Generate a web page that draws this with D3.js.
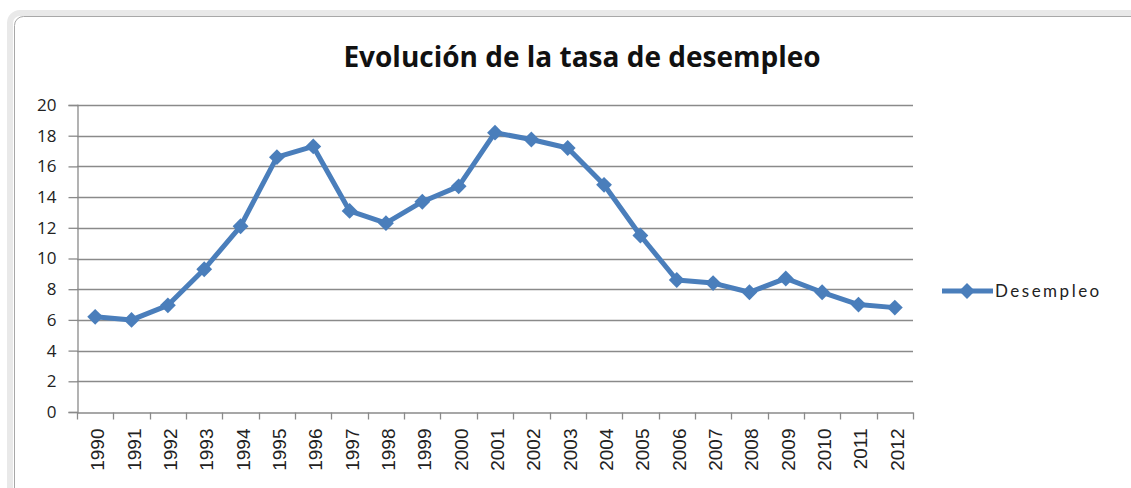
<!DOCTYPE html>
<html>
<head>
<meta charset="utf-8">
<script src="https://cdn.jsdelivr.net/npm/d3@7"></script>
<style>
  body { margin: 0; background: #fff; }
  svg { display: block; }
</style>
</head>
<body>
<div id="chart"></div>
<script>
// data
var years = ["1990","1991","1992","1993","1994","1995","1996","1997","1998","1999","2000","2001",
             "2002","2003","2004","2005","2006","2007","2008","2009","2010","2011","2012"];
var desempleo = [6.2, 6.0, 6.95, 9.3, 12.1, 16.6, 17.3, 13.1, 12.3, 13.7, 14.7, 18.2,
                 17.75, 17.2, 14.8, 11.5, 8.6, 8.4, 7.8, 8.7, 7.8, 7.0, 6.8];
var yTicks = [0, 2, 4, 6, 8, 10, 12, 14, 16, 18, 20];
var seriesName = "Desempleo";
var title = "Evolución de la tasa de desempleo";

var width = 1131, height = 488;
var blue = "#4a7ebb";
var grid = "#8a8a8a";
var margin = {top: 105, left: 77, right: 218, bottom: 76};

var svg = d3.select("#chart").append("svg")
    .attr("width", width)
    .attr("height", height);

// excel-like chart frame
svg.append("rect")
    .attr("x", 10).attr("y", 13)
    .attr("width", width + 20).attr("height", height + 20)
    .attr("rx", 10)
    .attr("fill", "none")
    .attr("stroke", "#e9e9e9")
    .attr("stroke-width", 6);
svg.append("rect")
    .attr("x", 14.5).attr("y", 16.5)
    .attr("width", width).attr("height", height)
    .attr("rx", 9)
    .attr("fill", "#fff")
    .attr("stroke", "#a8a8a8")
    .attr("stroke-width", 1);

var x = d3.scaleBand()
    .domain(years)
    .range([margin.left, width - margin.right]);

var y = d3.scaleLinear()
    .domain([0, 20])
    .range([height - margin.bottom, margin.top]);

// gridlines
svg.append("g")
    .selectAll("line")
    .data(yTicks.filter(function(d) { return d > 0; }))
    .enter().append("line")
    .attr("x1", margin.left).attr("x2", width - margin.right)
    .attr("y1", function(d) { return Math.round(y(d)) + 0.5; })
    .attr("y2", function(d) { return Math.round(y(d)) + 0.5; })
    .attr("stroke", grid)
    .attr("stroke-width", 1.3);

// y axis
var yAxis = svg.append("g")
    .attr("transform", "translate(" + (margin.left + 0.5) + ",0)")
    .call(d3.axisLeft(y).tickValues(yTicks).tickSize(9).tickPadding(12).tickFormat(d3.format("d")));
yAxis.selectAll("text")
    .attr("font-family", "'Open Sans', Lato, sans-serif")
    .attr("font-size", 17)
    .attr("fill", "#222");
yAxis.selectAll(".domain, .tick line").attr("stroke", grid).attr("stroke-width", 1.3);

// x axis
var xAxis = svg.append("g")
    .attr("transform", "translate(0," + (Math.round(y(0)) + 0.5) + ")")
    .call(d3.axisBottom(x).tickSize(0).tickFormat(""));
xAxis.select(".domain").attr("stroke", grid).attr("stroke-width", 1.3);
// category boundary ticks
xAxis.selectAll(".bound")
    .data(years.concat(["end"]))
    .enter().append("line")
    .attr("class", "bound")
    .attr("x1", function(d, i) { return Math.round(margin.left + i * x.step()) + 0.5; })
    .attr("x2", function(d, i) { return Math.round(margin.left + i * x.step()) + 0.5; })
    .attr("y1", 0).attr("y2", 7)
    .attr("stroke", grid)
    .attr("stroke-width", 1.3);
xAxis.selectAll(".lbl")
    .data(years)
    .enter().append("text")
    .attr("class", "lbl")
    .attr("transform", function(d) { return "translate(" + (x(d) + x.bandwidth() / 2 + 9) + ",16) rotate(-90)"; })
    .attr("text-anchor", "end")
    .attr("font-family", "'Liberation Sans', Arial, sans-serif")
    .attr("font-size", 19)
    .attr("fill", "#222")
    .text(function(d) { return d; });

// line
var line = d3.line()
    .x(function(d, i) { return x(years[i]) + x.bandwidth() / 2; })
    .y(function(d) { return y(d); });

svg.append("path")
    .datum(desempleo)
    .attr("d", line)
    .attr("fill", "none")
    .attr("stroke", blue)
    .attr("stroke-width", 5)
    .attr("stroke-linejoin", "round");

var diamond = d3.symbol().type(d3.symbolDiamond2).size(160);
svg.append("g")
    .selectAll("path")
    .data(desempleo)
    .enter().append("path")
    .attr("d", diamond)
    .attr("transform", function(d, i) { return "translate(" + (x(years[i]) + x.bandwidth() / 2) + "," + y(d) + ")"; })
    .attr("fill", blue);

// title
svg.append("text")
    .attr("x", 582).attr("y", 67)
    .attr("text-anchor", "middle")
    .attr("font-family", "'Open Sans', Lato, sans-serif")
    .attr("font-weight", "bold")
    .attr("font-size", 28)
    .attr("fill", "#111")
    .text(title);

// legend
var lg = svg.append("g").attr("transform", "translate(942,291)");
lg.append("line")
    .attr("x1", 0).attr("x2", 51)
    .attr("stroke", blue).attr("stroke-width", 5);
lg.append("path")
    .attr("d", diamond)
    .attr("transform", "translate(25,0)")
    .attr("fill", blue);
lg.append("text")
    .attr("x", 53).attr("y", 6)
    .attr("font-family", "Lato, 'Open Sans', sans-serif")
    .attr("font-size", 17)
    .attr("letter-spacing", 2.5)
    .attr("fill", "#222")
    .text(seriesName);
</script>
</body>
</html>
